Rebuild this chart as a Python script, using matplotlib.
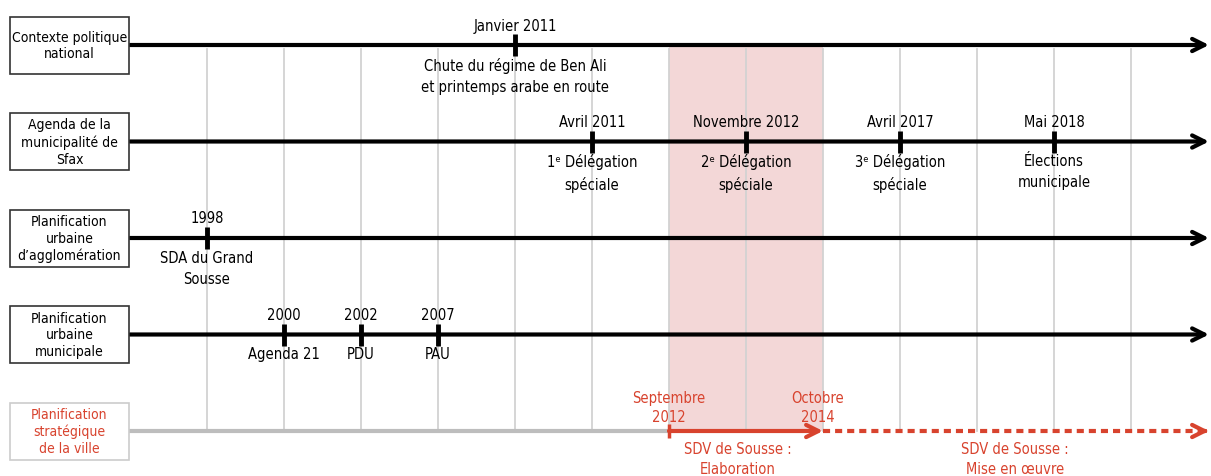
import matplotlib
matplotlib.use("Agg")
import matplotlib.pyplot as plt
from matplotlib.patches import Rectangle

# ---------------- data ----------------
row_labels = [
    "Contexte politique\nnational",
    "Agenda de la\nmunicipalité de\nSfax",
    "Planification\nurbaine\nd’agglomération",
    "Planification\nurbaine\nmunicipale",
    "Planification\nstratégique\nde la ville",
]
event_rows = [0, 1, 1, 1, 1, 2, 3, 3, 3]
event_slots = [4, 5, 7, 9, 11, 0, 1, 2, 3]
event_dates = ["Janvier 2011", "Avril 2011", "Novembre 2012", "Avril 2017", "Mai 2018",
               "1998", "2000", "2002", "2007"]
event_texts = ["Chute du régime de Ben Ali\net printemps arabe en route",
               "1ᵉ Délégation\nspéciale", "2ᵉ Délégation\nspéciale",
               "3ᵉ Délégation\nspéciale", "Élections\nmunicipale",
               "SDA du Grand\nSousse", "Agenda 21", "PDU", "PAU"]
grid_slots = list(range(13))
sdv_start, sdv_end = 6, 8
sdv_start_label = "Septembre\n2012"
sdv_end_label = "Octobre\n2014"
sdv_phase1 = "SDV de Sousse :\nElaboration"
sdv_phase2 = "SDV de Sousse :\nMise en œuvre"

# ---------------- style ----------------
RED = "#d8432e"
plt.rcParams['font.family'] = ['DejaVu Sans']
FONT = dict(fontstretch='condensed', fontsize=10.5)
BOXFONT = dict(fontstretch='condensed', fontsize=10)

fig = plt.figure(figsize=(12.11, 4.77), dpi=100)
ax = fig.add_axes([0, 0, 1, 1])
# px = 207 + 77*slot ; py = 46 + 96.5*row
ax.set_xlim((0 - 207) / 77, (1211 - 207) / 77)
ax.set_ylim((477 - 46) / 96.5, (0 - 46) / 96.5)
ax.axis('off')

x_left = (130 - 207) / 77
x_right = (1209 - 207) / 77
nrows = len(row_labels)

# shaded band
ax.add_patch(Rectangle((sdv_start, 0), sdv_end - sdv_start, nrows - 1,
                       facecolor="#f3d7d7", edgecolor="none", zorder=0))
# grid
for s in grid_slots:
    ax.plot([s, s], [0.04, nrows - 1], color="#d2d2d2", lw=1.3, zorder=1)

# row boxes & axes
bx0 = (10 - 207) / 77
bx1 = (129 - 207) / 77
bh = 57 / 96.5
for r, lab in enumerate(row_labels):
    last = r == nrows - 1
    ax.add_patch(Rectangle((bx0, r - bh / 2), bx1 - bx0, bh, facecolor="white",
                           edgecolor="#cccccc" if last else "#333333", lw=1.2, zorder=3))
    ax.text((bx0 + bx1) / 2, r, lab, ha='center', va='center',
            color=RED if last else "black", linespacing=1.25, zorder=4, **BOXFONT)
    if not last:
        ax.annotate("", xy=(x_right, r), xytext=(x_left, r),
                    arrowprops=dict(arrowstyle="->", lw=3, color="black",
                                    mutation_scale=22, shrinkA=0, shrinkB=0),
                    zorder=2)

# events
tick = 11 / 96.5
for r, s, d, t in zip(event_rows, event_slots, event_dates, event_texts):
    ax.plot([s, s], [r - tick, r + tick], color="black", lw=3.5, solid_capstyle='butt', zorder=3)
    ax.text(s, r - 20 / 96.5, d, ha='center', va='center', **FONT)
    ax.text(s, r + 12 / 96.5, t, ha='center', va='top', linespacing=1.5, **FONT)

# strategic planning row
r = nrows - 1
ax.plot([x_left, sdv_start], [r, r], color="#bdbdbd", lw=3, zorder=2)
ax.annotate("", xy=(sdv_end, r), xytext=(sdv_start, r),
            arrowprops=dict(arrowstyle="->", lw=3, color=RED, mutation_scale=22,
                            shrinkA=0, shrinkB=0), zorder=3)
ax.plot([sdv_end, x_right - 0.08], [r, r], color=RED, lw=3,
        linestyle=(0, (1.7, 1.2)), zorder=3)
ax.annotate("", xy=(x_right, r), xytext=(x_right - 0.08, r),
            arrowprops=dict(arrowstyle="->", lw=3, color=RED, mutation_scale=22,
                            shrinkA=0, shrinkB=0), zorder=3)
ax.plot([sdv_start, sdv_start], [r - 7 / 96.5, r + 7 / 96.5], color=RED, lw=2.5,
        solid_capstyle='butt', zorder=3)
ax.text(sdv_start, r - 24 / 96.5, sdv_start_label, ha='center', va='center',
        color=RED, linespacing=1.35, **FONT)
ax.text(sdv_end - 5 / 77, r - 24 / 96.5, sdv_end_label, ha='center', va='center',
        color=RED, linespacing=1.35, **FONT)
ax.text((sdv_start + sdv_end) / 2 - 8 / 77, r + 10 / 96.5, sdv_phase1, ha='center', va='top',
        color=RED, linespacing=1.45, **FONT)
ax.text((1015 - 207) / 77, r + 10 / 96.5, sdv_phase2, ha='center', va='top',
        color=RED, linespacing=1.45, **FONT)

fig.savefig("out.png", dpi=100, facecolor="white")
